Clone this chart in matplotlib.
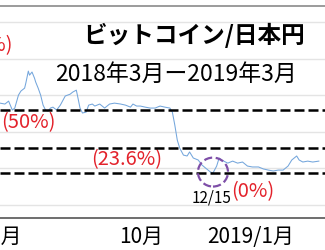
import pandas as pd
import matplotlib
matplotlib.use('Agg')
import matplotlib.pyplot as plt
import matplotlib.dates as mdates
from matplotlib.patches import Ellipse

plt.rcParams['font.family'] = ['Noto Sans CJK JP', 'DejaVu Sans']

# BTC/JPY close, in 10,000 yen
dates = ['2018-06-25', '2018-06-29', '2018-07-02', '2018-07-05', '2018-07-07', '2018-07-10',
         '2018-07-12', '2018-07-15', '2018-07-16', '2018-07-18', '2018-07-19', '2018-07-21',
         '2018-07-23', '2018-07-24', '2018-07-26', '2018-07-28', '2018-07-30', '2018-08-01',
         '2018-08-03', '2018-08-05', '2018-08-07', '2018-08-10', '2018-08-13', '2018-08-17',
         '2018-08-21', '2018-08-23', '2018-08-26', '2018-08-27', '2018-08-29', '2018-08-31',
         '2018-09-03', '2018-09-05', '2018-09-08', '2018-09-10', '2018-09-14', '2018-09-18',
         '2018-09-22', '2018-09-26', '2018-10-01', '2018-10-05', '2018-10-09', '2018-10-11',
         '2018-10-14', '2018-10-17', '2018-10-21', '2018-10-25', '2018-10-29', '2018-11-02',
         '2018-11-06', '2018-11-10', '2018-11-12', '2018-11-14', '2018-11-16', '2018-11-18',
         '2018-11-21', '2018-11-24', '2018-11-26', '2018-11-29', '2018-12-03', '2018-12-06',
         '2018-12-09', '2018-12-13', '2018-12-15', '2018-12-18', '2018-12-20', '2018-12-22',
         '2018-12-27', '2018-12-31', '2019-01-04', '2019-01-08', '2019-01-12', '2019-01-16',
         '2019-01-21', '2019-01-25', '2019-01-29', '2019-02-02', '2019-02-06', '2019-02-10',
         '2019-02-14', '2019-02-17', '2019-02-21', '2019-02-23', '2019-02-26', '2019-03-02',
         '2019-03-06', '2019-03-11']
prices = [75.7, 75.2, 76.8, 71.9, 73.0, 80.1,
          82.3, 83.9, 86.7, 93.2, 91.0, 92.7,
          89.4, 87.2, 83.9, 80.1, 74.6, 71.9,
          71.4, 73.0, 73.5, 71.9, 74.6, 79.6,
          80.6, 81.7, 82.8, 79.6, 73.0, 70.3,
          70.8, 74.6, 75.2, 74.1, 75.2, 73.0,
          75.2, 75.7, 75.2, 74.6, 73.5, 75.2,
          74.1, 74.1, 73.5, 73.0, 73.0, 74.1,
          73.5, 73.0, 70.8, 63.7, 55.5, 51.1,
          47.3, 46.8, 49.0, 45.7, 44.6, 41.9,
          40.2, 38.0, 37.5, 41.3, 45.7, 44.6,
          42.9, 44.0, 42.9, 43.5, 41.3, 40.8,
          40.8, 39.7, 39.1, 38.6, 39.1, 39.1,
          41.3, 44.6, 46.8, 44.6, 43.5, 44.0,
          43.5, 44.0]

# retracement levels
level_values = [71.9, 51.1, 37.5]
level_labels = ['(50%)', '(23.6%)', '(0%)']

tick_dates = ['2018-06-29', '2018-10-18', '2019-01-15']
tick_labels = ['7月', '10月', '2019/1月']

dates = pd.to_datetime(dates)
red = '#e3222b'

fig = plt.figure(figsize=(3.25, 2.5), dpi=100)
ax = fig.add_axes([0, 0.128, 1, 0.848])

ax.plot(dates, prices, color='#74a6dc', lw=0.75, zorder=3)

for v in level_values:
    ax.axhline(v, color='black', lw=1.8, dashes=(4, 1.6), zorder=4)

ax.set_xlim(pd.Timestamp('2018-06-25'), pd.Timestamp('2019-03-16'))
ax.set_ylim(12.9, 128.8)
ax.set_yticks([20, 40, 60, 80, 100, 120])
ax.yaxis.grid(True, color='#e4e4e4', lw=1)
ax.set_axisbelow(True)
ax.tick_params(axis='y', left=False, labelleft=False)

ax.set_xticks(pd.to_datetime(tick_dates))
ax.set_xticklabels(tick_labels, fontsize=15)
ax.tick_params(axis='x', length=0, pad=6)

for side in ['left', 'right']:
    ax.spines[side].set_visible(False)
ax.spines['top'].set_color('#8a8a8a')
ax.spines['bottom'].set_color('#555555')
ax.spines['top'].set_linewidth(1.2)
ax.spines['bottom'].set_linewidth(1.2)

# labels for the levels
ax.text(pd.Timestamp('2018-07-05'), 107.4, '(100%)', color=red, fontsize=14.5,
        ha='right', va='center')
ax.text(pd.Timestamp('2018-06-26'), 64.8, level_labels[0], color=red, fontsize=14.5,
        ha='left', va='center')
ax.text(pd.Timestamp('2018-11-04'), 44.6, level_labels[1], color=red, fontsize=14.5,
        ha='right', va='center')
ax.text(pd.Timestamp('2018-12-30'), 27.1, level_labels[2], color=red, fontsize=14.5,
        ha='left', va='center')

# low marker
low_x = mdates.date2num(pd.Timestamp('2018-12-15'))
ax.add_patch(Ellipse((low_x, 38.0), width=24.4, height=15.8, fill=False,
                     edgecolor='#7e4fa8', lw=1.6, linestyle='--', zorder=5))
ax.text(pd.Timestamp('2018-12-13 12:00'), 23.8, '12/15', fontsize=11,
        ha='center', va='center')

ax.text(0.597, 0.863, 'ビットコイン/日本円', transform=ax.transAxes, fontsize=17,
        fontweight='bold', ha='center', va='center')
ax.text(0.542, 0.679, '2018年3月ー2019年3月', transform=ax.transAxes, fontsize=16.5,
        ha='center', va='center')

fig.savefig('out.png', dpi=100)
